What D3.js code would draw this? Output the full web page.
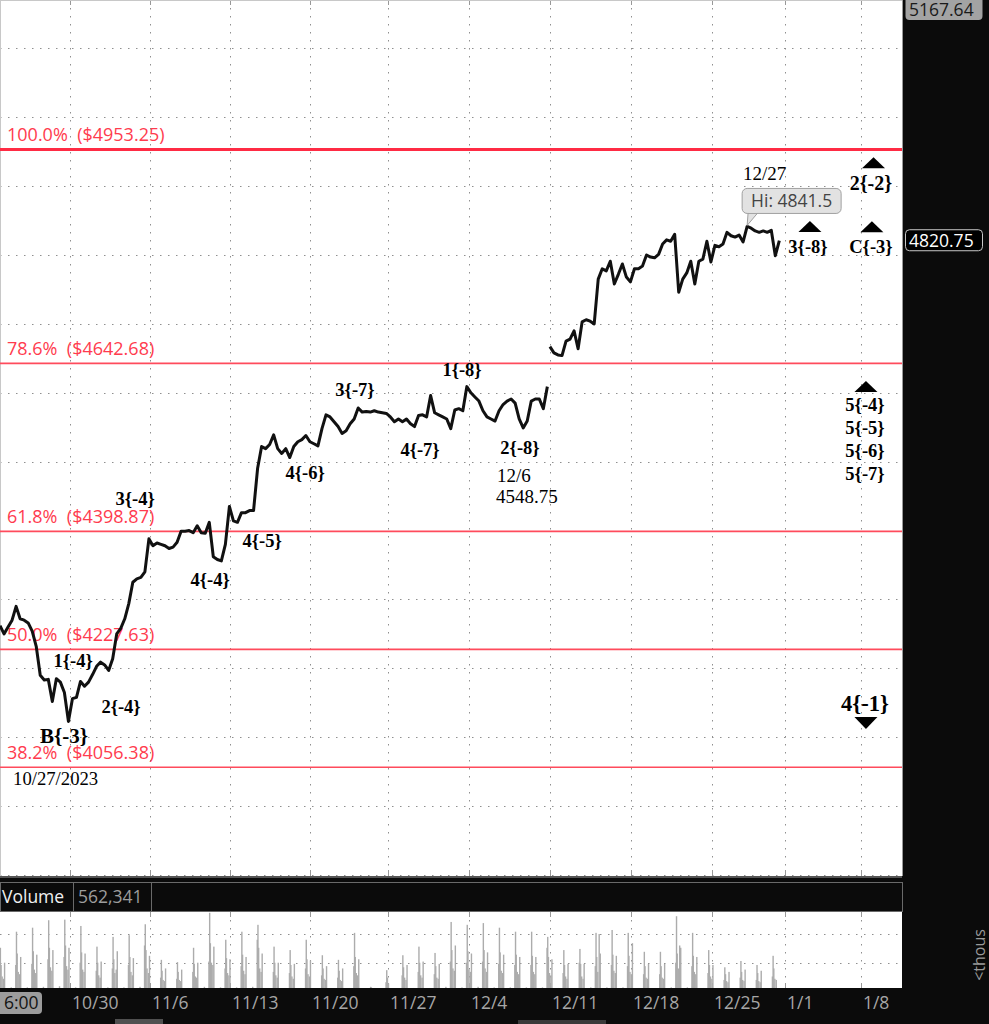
<!DOCTYPE html>
<html>
<head>
<meta charset="utf-8">
<script src="https://cdn.jsdelivr.net/npm/d3@7/dist/d3.min.js"></script>
<style>
  body { margin: 0; background: #0b0b0b; }
  svg { display: block; }
  .axis text { font-family: "Open Sans", sans-serif; font-size: 17.5px; fill: #a6a6a6; }
  .axis line { stroke: #9a9a9a; }
  .axis path { display: none; }
  .wave { font-family: "Liberation Serif", "Times New Roman", serif; font-weight: bold; fill: #000; }
  .note { font-family: "Liberation Serif", "Times New Roman", serif; fill: #000; }
  .ui { font-family: "Open Sans", sans-serif; font-size: 17.5px; }
  .fibtext { font-family: "Open Sans", sans-serif; font-size: 18px; }
</style>
</head>
<body>
<div id="chart"></div>
<script>
// ---- data ----
// front month (Dec) closes, one every quarter session
const frontStartDay = -4.35;
const backStartDay = 29.81;
const sampleStep = 0.25;
const frontMonth = [4262,4250,4260,4270,4290,4272,4270,4266,4254,4232,
  4190,4183,4184,4152,4185,4180,4165,4123,4156,4158,
  4181,4174,4180,4191,4203,4209,4205,4197,4214,4250,
  4258,4272,4294,4325,4330,4332,4340,4388,4378,4382,
  4380,4378,4374,4376,4383,4399,4399,4400,4397,4407,
  4397,4396,4412,4362,4358,4356,4380,4435,4414,4412,
  4426,4426,4429,4429,4490,4522,4519,4525,4539,4519,
  4512,4519,4506,4522,4529,4532,4538,4529,4526,4523,
  4548,4568,4565,4558,4551,4541,4545,4555,4562,4578,
  4572,4573,4572,4574,4572,4571,4570,4565,4558,4562,
  4558,4562,4555,4551,4567,4568,4565,4596,4571,4568,
  4565,4562,4548,4575,4577,4574,4609,4600,4594,4588,
  4574,4565,4562,4559,4574,4583,4588,4591,4585,4562,
  4549,4559,4588,4591,4591,4577,4609];
// back month (Mar) after the roll
const backMonth = [4667,4658,4655,4654,4675,4678,4690,4664,4703,4706,
  4704,4700,4765,4780,4777,4791,4758,4772,4787,4768,
  4761,4780,4780,4784,4800,4797,4796,4801,4816,4822,
  4820,4830,4746,4765,4774,4791,4758,4791,4794,4820,
  4790,4814,4812,4816,4833,4828,4826,4829,4819,4841.5,
  4839,4835,4833,4835,4833,4836,4799,4820.75];

const lastPrice = 4820.75;
const topPrice = 5167.64;
const priceTicks = [3900,4000,4100,4200,4300,4400,4500,4600,4700,4800,4900,5000,5100];

const fibPct = ["100.0%", "78.6%", "61.8%", "50.0%", "38.2%"];
const fibPrice = [4953.25, 4642.68, 4398.87, 4227.63, 4056.38];

const weekLabels = ["10/30","11/6","11/13","11/20","11/27","12/4","12/11","12/18","12/25","1/1","1/8"];
const weekTickDay = [0, 4.97, 9.94, 14.91, 19.75, 24.78, 29.81, 34.84, 39.88, 44.41, 49.13];

// volume (thousands) per session, sessions -5 .. 43, by time of day
const volSession = d3.range(-5, 44);
const volSlotHours = [2, 8.5, 9.5, 10.5, 12, 14, 15.5];
const volNight = [30,35,35,40,45,35,30,35,35,40,25,25,30,40,35,35,40,30,30,30,25,25,30,15,20,25,30,30,40,35,40,35,35,35,35,30,30,35,35,35,30,30,35,35,30,20,25,25,25];
const vol0830 = [170,230,240,280,300,250,180,200,230,400,120,110,170,260,200,220,450,170,160,200,140,120,220,30,80,140,170,150,260,250,260,240,230,230,380,160,250,220,230,220,150,150,250,220,160,100,120,100,130];
const vol0930 = [380,520,555,620,625,570,390,475,490,585,275,255,380,685,450,520,580,390,360,450,315,275,510,40,185,315,390,335,605,580,595,555,520,520,475,360,370,510,535,510,345,345,655,510,360,210,265,230,310];
const vol1030 = [230,330,350,380,400,340,250,280,300,360,180,170,240,420,290,320,380,250,230,280,200,180,300,35,120,210,250,220,360,350,360,340,320,310,300,230,240,300,320,310,220,220,330,310,230,150,170,160,200];
const vol1200 = [130,170,190,210,220,190,140,160,170,200,100,100,130,250,160,180,200,140,130,150,110,100,160,30,70,120,140,120,200,190,200,180,170,170,160,130,130,170,180,170,120,120,200,170,130,90,100,90,110];
const vol1400 = [110,150,160,180,190,170,120,190,140,160,90,90,120,230,140,150,170,120,110,130,100,90,140,25,0,100,120,110,180,170,170,160,150,150,140,110,110,500,160,150,110,110,400,150,110,80,90,80,100];
const vol1530 = [250,300,320,360,380,330,260,350,290,310,200,190,250,390,280,300,330,250,240,270,220,200,280,30,0,230,260,240,400,330,340,320,300,300,280,240,240,330,310,420,240,240,380,300,230,170,190,180,0];
const volTicks = [0, 250, 500];
const lastVolume = "562,341";

// wave count labels
const waveLabels = ["3{-4}","4{-4}","4{-5}","4{-6}","3{-7}","4{-7}","1{-8}","2{-8}","1{-4}","2{-4}","B{-3}","3{-8}","C{-3}","2{-2}","5{-4}","5{-5}","5{-6}","5{-7}","4{-1}"];
const waveDay = [4.04, 8.70, 11.93, 14.60, 17.70, 21.74, 24.35, 27.95, 0.19, 3.17, -0.37, 45.84, 49.75, 49.75, 49.38, 49.38, 49.38, 49.38, 49.38];
const wavePrice = [4437, 4320, 4376, 4475, 4595, 4508, 4624, 4511, 4202, 4135, 4092, 4803, 4803, 4894, 4574, 4540, 4507, 4473, 4138];

const noteLabels = ["12/6", "4548.75", "10/27/2023", "12/27"];
const noteDay = [26.52, 26.46, -3.54, 41.80];
const notePrice = [4470.5, 4440, 4030.7, 4909];

const markerDay = [49.91, 45.96, 49.81, 49.44, 49.44];
const markerPrice = [4926, 4833.4, 4833, 4601, 4129.4];
const markerDir = ["up", "up", "up", "up", "down"];

// ---- layout ----
const width = 989, height = 1024;
const plotRight = 902, mainBottom = 876, volTop = 912, volBottom = 988;

const svg = d3.select("#chart").append("svg")
  .attr("width", width)
  .attr("height", height);

const defs = svg.append("defs");
defs.append("clipPath").attr("id", "mainClip")
  .append("rect").attr("x", 0).attr("y", 0).attr("width", plotRight).attr("height", mainBottom);
defs.append("clipPath").attr("id", "priceAxisClip")
  .append("rect").attr("x", plotRight - 8).attr("y", 0).attr("width", 100).attr("height", mainBottom + 1);
defs.append("clipPath").attr("id", "volClip")
  .append("rect").attr("x", 0).attr("y", volTop).attr("width", plotRight).attr("height", volBottom - volTop);
defs.append("clipPath").attr("id", "volAxisClip")
  .append("rect").attr("x", plotRight - 8).attr("y", volTop).attr("width", 100).attr("height", 78);

svg.append("rect").attr("width", width).attr("height", height).attr("fill", "#0b0b0b");
svg.append("rect").attr("x", 0).attr("y", 0).attr("width", plotRight).attr("height", mainBottom).attr("fill", "#fff");
svg.append("rect").attr("x", 0).attr("y", volTop).attr("width", plotRight).attr("height", volBottom - volTop).attr("fill", "#fff");

// scales
const xScale = d3.scaleLinear().domain([-4.35, 51.68]).range([0, plotRight]);
const yScale = d3.scaleLinear().domain([3898.6, 5170.2]).range([mainBottom, 0]);
const volScale = d3.scaleLinear().domain([0, 500]).range([991.4, 934]);

// grid
const grid = svg.append("g").attr("clip-path", "url(#mainClip)");
grid.selectAll(".hg").data(priceTicks).enter().append("line")
  .attr("x1", 0).attr("x2", plotRight)
  .attr("y1", d => Math.round(yScale(d)) + 0.5).attr("y2", d => Math.round(yScale(d)) + 0.5)
  .attr("stroke", "#8f8f8f").attr("stroke-dasharray", "1.5,6.5");
grid.selectAll(".vg").data(weekTickDay).enter().append("line")
  .attr("x1", d => Math.round(xScale(d)) + 0.5).attr("x2", d => Math.round(xScale(d)) + 0.5)
  .attr("y1", 0).attr("y2", mainBottom)
  .attr("stroke", "#8f8f8f").attr("stroke-dasharray", "1.5,6.5");
grid.selectAll(".vt").data(weekTickDay).enter().append("path")
  .attr("d", d => {
    const x = Math.round(xScale(d)) + 0.5;
    return `M${x},0V5M${x},${mainBottom - 6}V${mainBottom}`;
  })
  .attr("stroke", "#999");

svg.append("line").attr("x1", 0.5).attr("x2", 0.5).attr("y1", 0).attr("y2", mainBottom).attr("stroke", "#c8c8c8");
svg.append("line").attr("x1", 0).attr("x2", plotRight).attr("y1", 0.5).attr("y2", 0.5).attr("stroke", "#c8c8c8");
svg.append("line").attr("x1", plotRight + 0.5).attr("x2", plotRight + 0.5).attr("y1", 0).attr("y2", mainBottom).attr("stroke", "#9a9a9a");

// fibonacci levels
const fib = svg.append("g").attr("clip-path", "url(#mainClip)");
fib.selectAll("line").data(fibPrice).enter().append("line")
  .attr("x1", 0).attr("x2", plotRight)
  .attr("y1", d => yScale(d)).attr("y2", d => yScale(d))
  .attr("stroke", (d, i) => i === 0 ? "#ff2b44" : "#ff4b5c")
  .attr("stroke-width", (d, i) => i === 0 ? 3 : 1.6);
fib.selectAll("text").data(fibPrice).enter().append("text")
  .attr("class", "fibtext")
  .attr("x", 7)
  .attr("y", d => yScale(d) - 8)
  .attr("fill", "#ff3b4e")
  .text((d, i) => `${fibPct[i]}\u00a0\u00a0($${d.toFixed(2)})`);

// price line
const priceLine = d3.line()
  .x(d => xScale(d.day))
  .y(d => yScale(d.price));
const frontData = frontMonth.map((p, i) => ({day: frontStartDay + i * sampleStep, price: p}));
const backData = backMonth.map((p, i) => ({day: backStartDay + i * sampleStep, price: p}));

const plot = svg.append("g").attr("clip-path", "url(#mainClip)");
[frontData, backData].forEach(series => {
  plot.append("path")
    .datum(series)
    .attr("d", priceLine)
    .attr("fill", "none")
    .attr("stroke", "#111")
    .attr("stroke-width", 3)
    .attr("stroke-linejoin", "round");
});

// wave labels
const bigLabels = {"B{-3}": 21, "4{-1}": 22.5, "2{-2}": 20};
plot.selectAll(".wave").data(waveLabels).enter().append("text")
  .attr("class", "wave")
  .attr("x", (d, i) => xScale(waveDay[i]))
  .attr("y", (d, i) => yScale(wavePrice[i]))
  .attr("text-anchor", "middle")
  .style("font-size", d => (bigLabels[d] || 18.5) + "px")
  .text(d => d);

plot.selectAll(".note").data(noteLabels).enter().append("text")
  .attr("class", "note")
  .attr("x", (d, i) => xScale(noteDay[i]))
  .attr("y", (d, i) => yScale(notePrice[i]))
  .style("font-size", d => d.length > 7 ? "18.7px" : "19px")
  .text(d => d);

plot.selectAll(".marker").data(markerDir).enter().append("path")
  .attr("d", (d, i) => {
    const x = xScale(markerDay[i]), y = yScale(markerPrice[i]);
    return d === "up"
      ? `M${x - 11.5},${y}L${x + 11.5},${y}L${x},${y - 11}Z`
      : `M${x - 11.5},${y}L${x + 11.5},${y}L${x},${y + 12}Z`;
  })
  .attr("fill", "#000");

// high callout
const hiIdx = d3.maxIndex(backData, d => d.price);
const hi = backData[hiIdx];
const hx = xScale(hi.day), hy = yScale(hi.price);
const bx = hx - 5, bBottom = hy - 13;
plot.append("path")
  .attr("d", `M${hx + 1},${bBottom - 1}L${hx + 11},${bBottom - 1}L${hx},${hy - 1}Z`)
  .attr("fill", "#e2e2e2").attr("stroke", "#a0a0a0");
plot.append("rect")
  .attr("x", bx).attr("y", bBottom - 25).attr("width", 99).attr("height", 25)
  .attr("rx", 5).attr("fill", "#e2e2e2").attr("stroke", "#a0a0a0");
plot.append("path")
  .attr("d", `M${hx + 2},${bBottom - 1.5}L${hx + 10},${bBottom - 1.5}`)
  .attr("stroke", "#e2e2e2").attr("stroke-width", 2);
plot.append("text").attr("class", "ui")
  .attr("x", bx + 49.5).attr("y", bBottom - 6.5)
  .attr("text-anchor", "middle").attr("fill", "#444")
  .text(`Hi: ${hi.price}`);

// right price axis
const yAxis = d3.axisRight(yScale).tickValues(priceTicks).tickSize(-6).tickPadding(4).tickFormat(d3.format("d"));
svg.append("g")
  .attr("class", "axis")
  .attr("transform", `translate(${plotRight},0)`)
  .attr("clip-path", "url(#priceAxisClip)")
  .call(yAxis)
  .selectAll("text").attr("dy", "0.45em");

// top value badge
const topY = Math.max(yScale(topPrice), 10);
svg.append("rect").attr("x", 905.5).attr("y", topY - 14).attr("width", 77).attr("height", 24)
  .attr("rx", 4).attr("fill", "#a3a3a3");
svg.append("text").attr("class", "ui").attr("x", 909).attr("y", topY + 6)
  .attr("fill", "#1a1a1a").text(topPrice.toFixed(2));

// last price badge
const lastY = yScale(lastPrice);
svg.append("rect").attr("x", 905.5).attr("y", lastY - 11).attr("width", 77).attr("height", 21)
  .attr("rx", 4).attr("fill", "#000").attr("stroke", "#c8c8c8");
svg.append("text").attr("class", "ui").attr("x", 909).attr("y", lastY + 6)
  .attr("fill", "#fff").text(lastPrice.toFixed(2));

// volume header
svg.append("line").attr("x1", 0).attr("x2", plotRight).attr("y1", mainBottom + 1).attr("y2", mainBottom + 1)
  .attr("stroke", "#555").attr("stroke-width", 2);
svg.append("rect").attr("x", 0.5).attr("y", 882.5).attr("width", plotRight).attr("height", 29)
  .attr("fill", "#0b0b0b").attr("stroke", "#6a6a6a");
[73, 151].forEach(x => {
  svg.append("line").attr("x1", x + 0.5).attr("x2", x + 0.5).attr("y1", 882).attr("y2", 912).attr("stroke", "#6a6a6a");
});
svg.append("text").attr("class", "ui").attr("x", 2).attr("y", 903).attr("fill", "#f0f0f0").text("Volume");
svg.append("text").attr("class", "ui").attr("x", 78).attr("y", 903).attr("fill", "#9d9d9d").text(lastVolume);

// volume grid
const vgrid = svg.append("g").attr("clip-path", "url(#volClip)");
vgrid.selectAll(".hg").data(volTicks.slice(1)).enter().append("line")
  .attr("x1", 0).attr("x2", plotRight)
  .attr("y1", d => Math.round(volScale(d)) + 0.5).attr("y2", d => Math.round(volScale(d)) + 0.5)
  .attr("stroke", "#8f8f8f").attr("stroke-dasharray", "1.5,6.5");
vgrid.selectAll(".vg").data(weekTickDay).enter().append("line")
  .attr("x1", d => Math.round(xScale(d)) + 0.5).attr("x2", d => Math.round(xScale(d)) + 0.5)
  .attr("y1", volTop).attr("y2", volBottom)
  .attr("stroke", "#8f8f8f").attr("stroke-dasharray", "1.5,6.5");
vgrid.selectAll(".vt").data(weekTickDay).enter().append("path")
  .attr("d", d => {
    const x = Math.round(xScale(d)) + 0.5;
    return `M${x},${volTop}V${volTop + 5}M${x},${volBottom - 5}V${volBottom}`;
  })
  .attr("stroke", "#999");

// volume bars
const volSlots = [volNight, vol0830, vol0930, vol1030, vol1200, vol1400, vol1530];
const volBars = [];
volSession.forEach((k, i) => {
  volSlotHours.forEach((h, s) => {
    const v = volSlots[s][i];
    if (v > 0) volBars.push({day: k + (h + 6) / 23, vol: v});
  });
});
vgrid.selectAll(".vb").data(volBars).enter().append("rect")
  .attr("x", d => xScale(d.day) - 0.7)
  .attr("width", 1.4)
  .attr("y", d => volScale(d.vol))
  .attr("height", d => volScale(0) - volScale(d.vol))
  .attr("fill", "#acacac");

// volume axis
const volAxis = d3.axisRight(volScale).tickValues(volTicks).tickSize(-6).tickPadding(4);
svg.append("g")
  .attr("class", "axis")
  .attr("transform", `translate(${plotRight},0)`)
  .attr("clip-path", "url(#volAxisClip)")
  .call(volAxis)
  .selectAll("text").attr("dy", "0.45em");

svg.append("text").attr("class", "ui")
  .attr("transform", "translate(985,955) rotate(-90)")
  .attr("text-anchor", "middle").attr("fill", "#9a9a9a")
  .style("font-size", "16px")
  .text("<thous");

// time axis labels
svg.append("g").selectAll("text").data(weekLabels).enter().append("text")
  .attr("class", "ui")
  .attr("x", (d, i) => xScale(weekTickDay[i]) + 2)
  .attr("y", 1009)
  .attr("fill", "#a6a6a6")
  .text(d => d);

// crosshair time badge
svg.append("rect").attr("x", -4).attr("y", 992).attr("width", 46).attr("height", 22)
  .attr("rx", 4).attr("fill", "#9c9c9c");
svg.append("text").attr("class", "ui").attr("x", 4).attr("y", 1009).attr("fill", "#141414").text("6:00");

// scrollbar bits
svg.append("rect").attr("x", 115).attr("y", 1019).attr("width", 48).attr("height", 5).attr("fill", "#505050");
svg.append("rect").attr("x", 518).attr("y", 1020).attr("width", 88).attr("height", 4).attr("fill", "#3a3a3a");
</script>
</body>
</html>
